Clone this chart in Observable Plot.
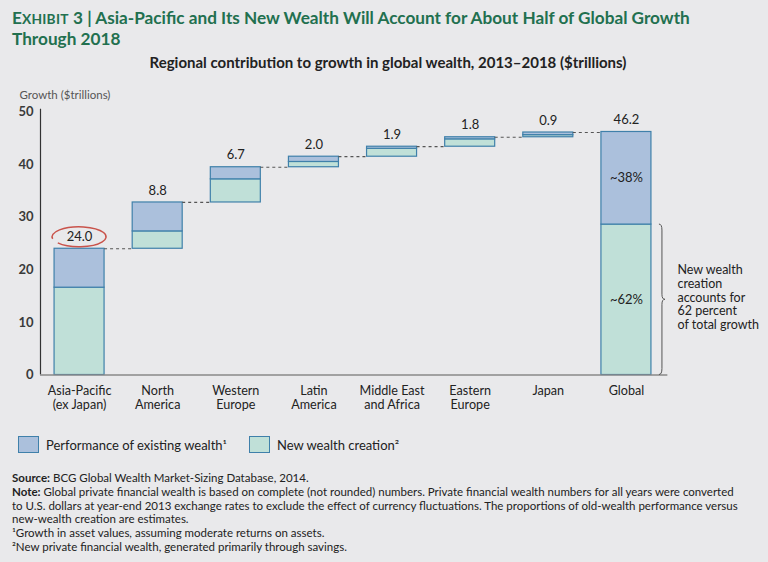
<!DOCTYPE html>
<html><head><meta charset="utf-8">
<script src="https://cdn.jsdelivr.net/npm/d3@7"></script>
<script src="https://cdn.jsdelivr.net/npm/@observablehq/plot@0.6"></script>
<style>
html,body{margin:0;padding:0;background:#e9e9eb;}
body{width:768px;height:562px;position:relative;overflow:hidden;font-family:Lato,"Open Sans",sans-serif;color:#222;}
#title{position:absolute;left:12px;top:8px;font-size:17.2px;font-weight:bold;color:#22704f;line-height:20px;white-space:nowrap;}
#title .sm{font-size:0.8em;letter-spacing:0.02em;}
#subtitle{position:absolute;left:0;width:776px;top:53px;text-align:center;font-size:15px;font-weight:bold;color:#222;line-height:18px;white-space:nowrap;}
#chart{position:absolute;left:0;top:80px;}
#legend{position:absolute;left:18px;top:436px;font-size:13px;color:#222;white-space:nowrap;}
#legend .item{display:inline-flex;align-items:center;margin-right:22px;}
#legend .sw{display:inline-block;width:19px;height:15px;border:1.2px solid #3f80aa;margin-right:7px;}
#notes{position:absolute;left:12px;top:471px;font-size:11.5px;line-height:13.8px;color:#222;white-space:nowrap;}
</style></head>
<body>
<div id="title">E<span class="sm">XHIBIT</span> 3 | Asia-Pacific and Its New Wealth Will Account for About Half of Global Growth<br>Through 2018</div>
<div id="subtitle">Regional contribution to growth in global wealth, 2013–2018 ($trillions)</div>
<div id="chart"></div>
<div id="legend"></div>
<div id="notes">
<b>Source:</b> BCG Global Wealth Market-Sizing Database, 2014.<br>
<b>Note:</b> Global private financial wealth is based on complete (not rounded) numbers. Private financial wealth numbers for all years were converted<br>
to U.S. dollars at year-end 2013 exchange rates to exclude the effect of currency fluctuations. The proportions of old-wealth performance versus<br>
new-wealth creation are estimates.<br>
¹Growth in asset values, assuming moderate returns on assets.<br>
²New private financial wealth, generated primarily through savings.
</div>
<script>
// ---- data ----
const regions = ["Asia-Pacific\n(ex Japan)", "North\nAmerica", "Western\nEurope", "Latin\nAmerica", "Middle East\nand Africa", "Eastern\nEurope", "Japan", "Global"];
const totals = [24.0, 8.8, 6.7, 2.0, 1.9, 1.8, 0.9, 46.2];
const newWealth = [16.6, 3.3, 4.4, 1.0, 1.5, 1.4, 0.4, 28.6];
const existingWealth = [7.4, 5.5, 2.3, 1.0, 0.4, 0.4, 0.5, 17.6];
const globalShares = ["~38%", "~62%"];
const yTicks = [0, 10, 20, 30, 40, 50];
const seriesNames = ["Performance of existing wealth¹", "New wealth creation²"];
const annotation = "New wealth\ncreation\naccounts for\n62 percent\nof total growth";

// ---- styles ----
const colExisting = "#abc0dc";
const colNew = "#c0e0d8";
const colStroke = "#3f80aa";
const hw = 0.32; // half bar width in band units

// ---- derived rows ----
let cum = 0;
const rows = regions.map((r, i) => {
  const isTotal = i === regions.length - 1;
  const base = isTotal ? 0 : cum;
  if (!isTotal) cum += totals[i];
  return {i, region: r, base, total: totals[i], nw: newWealth[i], ex: existingWealth[i],
          top: base + newWealth[i] + existingWealth[i], isTotal};
});
const segs = rows.flatMap(d => [
  {i: d.i, y1: d.base, y2: d.base + d.nw, fill: colNew},
  {i: d.i, y1: d.base + d.nw, y2: d.top, fill: colExisting}
]);
const connectors = rows.slice(0, -1).map(d => ({x1: d.i + hw, x2: d.i + 1 - hw, y: d.top}));
const g = rows[rows.length - 1];
const shareLabels = [
  {i: g.i, y: g.nw + g.ex / 2, text: globalShares[0]},
  {i: g.i, y: g.nw / 2, text: globalShares[1]}
];

const ellipseMark = (index, scales) => {
  const cx = scales.x(0), cy = scales.y(rows[0].top) - 11.5, rx = 27, ry = 10;
  const pt = a => [cx + rx * Math.cos(a * Math.PI / 180), cy + ry * Math.sin(a * Math.PI / 180)];
  const [sx, sy] = pt(168), [ex, ey] = pt(142);
  const el = document.createElementNS("http://www.w3.org/2000/svg", "path");
  el.setAttribute("d", `M${sx},${sy} A${rx},${ry} 0 1 1 ${ex},${ey}`);
  el.setAttribute("fill", "none"); el.setAttribute("stroke", "#c9534b"); el.setAttribute("stroke-width", 1.5);
  return el;
};
const braceMark = (index, scales) => {
  const x0 = scales.x(g.i + hw) + 8;
  const yt = scales.y(g.nw), yb = scales.y(0), ym = (yt + yb) / 2;
  const p = document.createElementNS("http://www.w3.org/2000/svg", "path");
  p.setAttribute("d", `M${x0},${yt} Q${x0+3},${yt} ${x0+3},${yt+6} L${x0+3},${ym-5} Q${x0+3},${ym} ${x0+6},${ym} Q${x0+3},${ym} ${x0+3},${ym+5} L${x0+3},${yb-6} Q${x0+3},${yb} ${x0},${yb}`);
  p.setAttribute("fill", "none"); p.setAttribute("stroke", "#555"); p.setAttribute("stroke-width", 1);
  return p;
};

const plot = Plot.plot({
  width: 768, height: 335,
  marginLeft: 40, marginRight: 103, marginTop: 31.5, marginBottom: 40.5,
  style: {background: "transparent", fontFamily: "Lato, 'Open Sans', sans-serif", color: "#222"},
  x: {domain: [-0.5, regions.length - 0.5]},
  y: {domain: [0, 50]},
  marks: [
    Plot.ruleX([-0.5], {y1: 0, y2: 50.5, stroke: "#333", strokeWidth: 1.2}),
    Plot.rect(segs, {x1: d => d.i - hw, x2: d => d.i + hw, y1: "y1", y2: "y2", fill: "fill", stroke: colStroke, strokeWidth: 1.2}),
    Plot.ruleY(connectors, {x1: "x1", x2: "x2", y: "y", stroke: "#555", strokeDasharray: "3,3", strokeWidth: 1.2}),
    Plot.ruleY([0], {x1: -0.5, x2: regions.length - 0.47, stroke: "#888", strokeWidth: 1.5}),
    Plot.text(rows, {x: "i", y: "top", text: d => d.total.toFixed(1), dy: -12, fontSize: 13, fill: "#222"}),
    Plot.text(shareLabels, {x: "i", y: "y", text: "text", fontSize: 13, fill: "#222"}),
    Plot.axisY({ticks: yTicks, tickSize: 0, tickPadding: 7, fontSize: 13, fontWeight: "bold", label: null, color: "#3a3a3a"}),
    Plot.axisX({ticks: rows.map(d => d.i), tickFormat: i => regions[i], tickSize: 0, tickPadding: 10, fontSize: 12.6, lineHeight: 1.12, label: null, color: "#222"}),
    Plot.text(["Growth ($trillions)"], {frameAnchor: "top-left", dx: -21, dy: -16.5, textAnchor: "start", lineAnchor: "middle", fontSize: 11.5, fill: "#555"}),
    Plot.text([annotation], {x: g.i, y: g.nw / 2, dx: 51, dy: -2.5, textAnchor: "start", fontSize: 12.5, lineHeight: 1.1, fill: "#222"}),
    ellipseMark,
    braceMark
  ]
});
document.getElementById("chart").appendChild(plot);

// legend
const lg = document.getElementById("legend");
[[seriesNames[0], colExisting], [seriesNames[1], colNew]].forEach(([name, c]) => {
  const it = document.createElement("span"); it.className = "item";
  const sw = document.createElement("span"); sw.className = "sw"; sw.style.background = c;
  it.appendChild(sw); it.appendChild(document.createTextNode(name));
  lg.appendChild(it);
});
</script>
</body></html>
